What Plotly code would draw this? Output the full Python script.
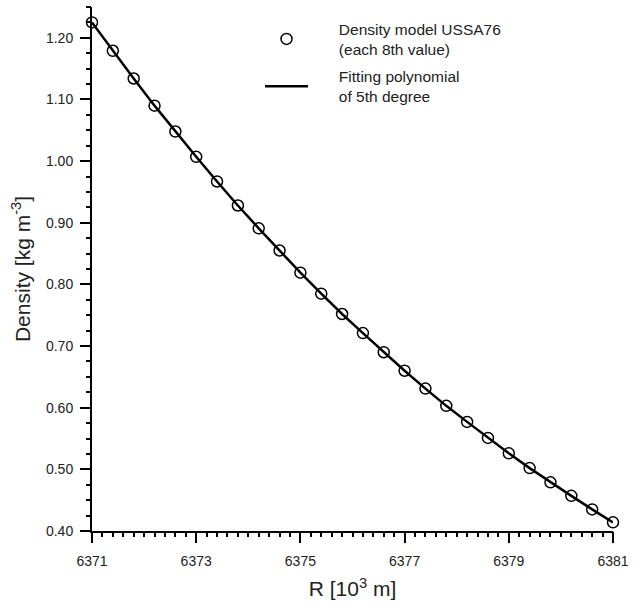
import plotly.graph_objects as go

# radius in 10^3 m (each 8th value of the model table)
radius = [6371.0, 6371.4, 6371.8, 6372.2, 6372.6, 6373.0, 6373.4, 6373.8, 6374.2,
          6374.6, 6375.0, 6375.4, 6375.8, 6376.2, 6376.6, 6377.0, 6377.4, 6377.8,
          6378.2, 6378.6, 6379.0, 6379.4, 6379.8, 6380.2, 6380.6, 6381.0]
# density, kg m^-3
density_model = [1.225, 1.179, 1.134, 1.090, 1.048, 1.007, 0.967, 0.928, 0.891,
                 0.855, 0.819, 0.785, 0.752, 0.721, 0.690, 0.660, 0.631, 0.603,
                 0.577, 0.551, 0.526, 0.502, 0.479, 0.457, 0.435, 0.414]
density_fit = [1.225, 1.179, 1.134, 1.090, 1.048, 1.007, 0.967, 0.928, 0.891,
               0.855, 0.819, 0.785, 0.752, 0.721, 0.690, 0.660, 0.631, 0.603,
               0.577, 0.551, 0.526, 0.502, 0.479, 0.457, 0.435, 0.414]

font = "Liberation Sans, Arial, sans-serif"
pad = "&nbsp;" * 6  # gap between legend symbol and text

fig = go.Figure()
fig.add_trace(go.Scatter(x=radius, y=density_model, mode="markers",
                         name=pad + "Density model USSA76<br>" + pad + "(each 8th value)",
                         legendgroup="model",
                         marker=dict(symbol="circle-open", size=11, color="black",
                                     line=dict(width=1.5, color="black")),
                         cliponaxis=False))
fig.add_trace(go.Scatter(x=radius, y=density_fit, mode="lines",
                         name=pad + "Fitting polynomial<br>" + pad + "of 5th degree",
                         legendgroup="fit",
                         line=dict(color="black", width=2.5),
                         cliponaxis=False))
# invisible copy on the overlaid axes so that their minor ticks get drawn
fig.add_trace(go.Scatter(x=radius, y=density_fit, mode="lines", xaxis="x2", yaxis="y2",
                         line=dict(width=0), opacity=0, showlegend=False,
                         hoverinfo="skip"))

fig.update_layout(
    width=636, height=606,
    margin=dict(l=92, r=20, t=7, b=75),
    plot_bgcolor="white", paper_bgcolor="white",
    font=dict(family=font, size=14, color="#222"),
    showlegend=True,
    legend=dict(x=0.3225, y=0.99, xanchor="left", yanchor="top",
                bgcolor="rgba(0,0,0,0)", font=dict(size=15.5),
                tracegroupgap=4, itemwidth=43),
    xaxis=dict(range=[6371, 6381], tick0=6371, dtick=2, ticks="outside",
               ticklen=10, tickwidth=2, tickcolor="black",
               showline=True, linewidth=2, linecolor="black",
               showgrid=False, zeroline=False, ticklabelstandoff=6,
               title=dict(text="R [10<sup>3</sup> m]", font=dict(size=21), standoff=14)),
    yaxis=dict(range=[0.40, 1.25], tick0=0.4, dtick=0.1, tickformat=".2f",
               ticks="outside", ticklen=10, tickwidth=2, tickcolor="black",
               showline=True, linewidth=2, linecolor="black",
               showgrid=False, zeroline=False, ticklabelstandoff=4,
               title=dict(text="Density [kg m<sup>-3</sup>]", font=dict(size=21), standoff=10)),
    # overlaid axes that only carry the minor ticks
    xaxis2=dict(overlaying="x", range=[6371, 6381], side="bottom", anchor="y",
                tick0=6371, dtick=0.2, ticks="outside", ticklen=5, tickwidth=2,
                tickcolor="black", showticklabels=False, showline=False,
                showgrid=False, zeroline=False),
    yaxis2=dict(overlaying="y", range=[0.40, 1.25], side="left", anchor="x",
                tick0=0.4, dtick=0.025, ticks="outside", ticklen=5, tickwidth=2,
                tickcolor="black", showticklabels=False, showline=False,
                showgrid=False, zeroline=False),
)

fig.write_html("out.html", config={"displayModeBar": False},
               post_script="document.body.style.margin='0px';")
